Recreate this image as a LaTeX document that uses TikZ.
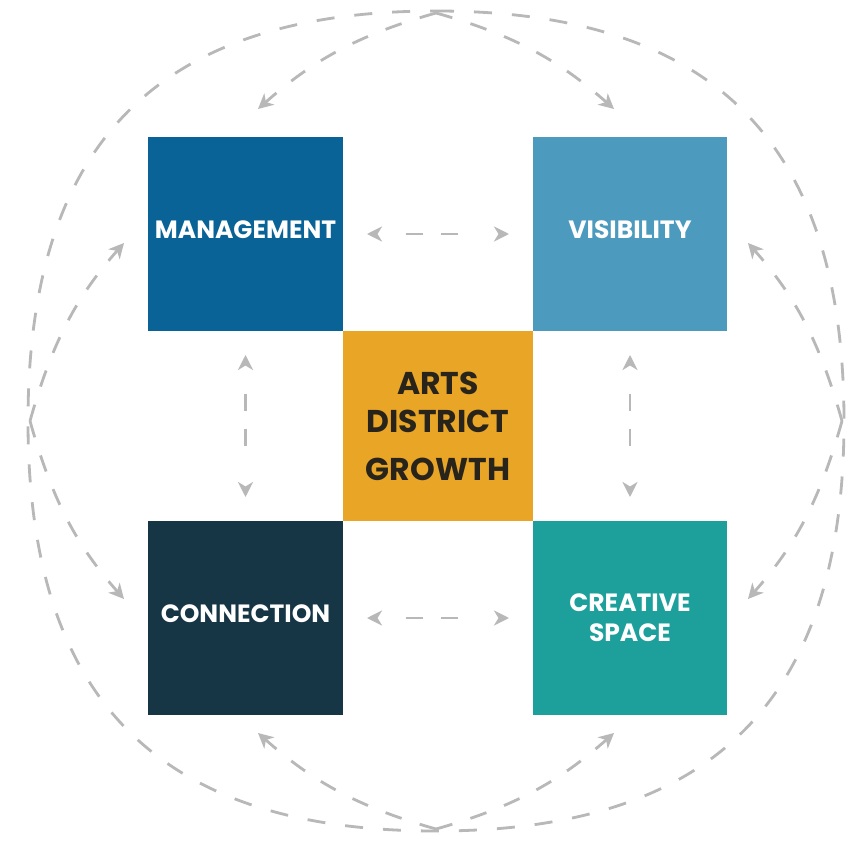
\documentclass[tikz,border=0pt]{standalone}
\usepackage{fontspec}
\setmainfont{Poppins}
\usetikzlibrary{arrows.meta}
\definecolor{mgmtblue}{RGB}{10,99,150}
\definecolor{visblue}{RGB}{76,155,190}
\definecolor{artsgold}{RGB}{232,165,38}
\definecolor{connnavy}{RGB}{22,53,69}
\definecolor{creteal}{RGB}{29,160,156}
\definecolor{linegray}{RGB}{184,184,184}
\definecolor{darktext}{RGB}{40,36,28}
\begin{document}
\begin{tikzpicture}[x=1pt,y=-1pt,
  every node/.style={inner sep=0pt, outer sep=0pt},
  tile/.style={minimum width=194pt, minimum height=194pt, align=center, text=white,
    font=\bfseries\fontsize{25}{30}\selectfont},
  basegray/.style={draw=linegray, line width=2.8pt},
  ringline/.style={basegray, dash pattern=on 18pt off 20pt},
  curvelink/.style={basegray, dash pattern=on 17pt off 19pt,
    -{Stealth[length=15pt,width=15pt,inset=4.5pt]}},
  straightlink/.style={basegray, dash pattern=on 0pt off 29pt on 17pt off 18pt on 17pt off 60pt,
    {Stealth[length=15pt,width=15pt,inset=4.5pt]}-{Stealth[length=15pt,width=15pt,inset=4.5pt]},
    shorten <=24pt, shorten >=24pt}
]
\useasboundingbox (0,0) rectangle (857,842);
\fill[white] (0,0) rectangle (857,842);

% tiles
\node[tile, fill=mgmtblue, minimum width=195pt, text depth=8pt] (mgmt) at (245.5,234) {MANAGEMENT};
\node[tile, fill=visblue, text depth=8pt] (vis) at (630,234) {VISIBILITY};
\node[tile, fill=connnavy, minimum width=195pt, text depth=8pt] (conn) at (245.5,618) {CONNECTION};
\node[tile, fill=creteal] (cre) at (630,618) {CREATIVE\\SPACE};
\node[tile, fill=artsgold, minimum width=190pt, minimum height=190pt, text=darktext,
  font=\bfseries\fontsize{31.5}{43}\selectfont] (arts) at (438,426) {ARTS\\[-5pt]DISTRICT\\[5pt]GROWTH};

% straight links
\draw[straightlink] (mgmt.east) -- (vis.west);
\draw[straightlink] (conn.east) -- (cre.west);
\draw[straightlink] (mgmt.south) -- (conn.north);
\draw[straightlink] (vis.south) -- (cre.north);

% outer ring
\coordinate (oT) at (436,11);
\coordinate (oR) at (844,421);
\coordinate (oB) at (436,831);
\coordinate (oL) at (28,421);
\draw[ringline] (oT) .. controls (713,11) and (844,142) .. (oR)
  .. controls (844,700) and (713,831) .. (oB)
  .. controls (159,831) and (28,700) .. (oL)
  .. controls (28,142) and (159,11) .. (oT);

% apexes and arrow ends
\coordinate (apT) at (436,13);
\coordinate (apB) at (436,829);
\coordinate (apL) at (30,421);
\coordinate (apR) at (842,421);
\coordinate (tTL) at (258,109);
\coordinate (tTR) at (614,109);
\coordinate (tBL) at (258,733);
\coordinate (tBR) at (614,733);
\coordinate (tLU) at (124,243);
\coordinate (tLD) at (124,599);
\coordinate (tRU) at (748,243);
\coordinate (tRD) at (748,599);

\draw[curvelink] (apT) .. controls (354,36) and (310,63) .. (tTL);
\draw[curvelink] (apT) .. controls (518,36) and (562,63) .. (tTR);
\draw[curvelink] (apB) .. controls (354,806) and (310,779) .. (tBL);
\draw[curvelink] (apB) .. controls (518,806) and (562,779) .. (tBR);
\draw[curvelink] (apL) .. controls (53,339) and (78,295) .. (tLU);
\draw[curvelink] (apL) .. controls (53,503) and (78,547) .. (tLD);
\draw[curvelink] (apR) .. controls (819,339) and (794,295) .. (tRU);
\draw[curvelink] (apR) .. controls (819,503) and (794,547) .. (tRD);
\end{tikzpicture}
\end{document}
